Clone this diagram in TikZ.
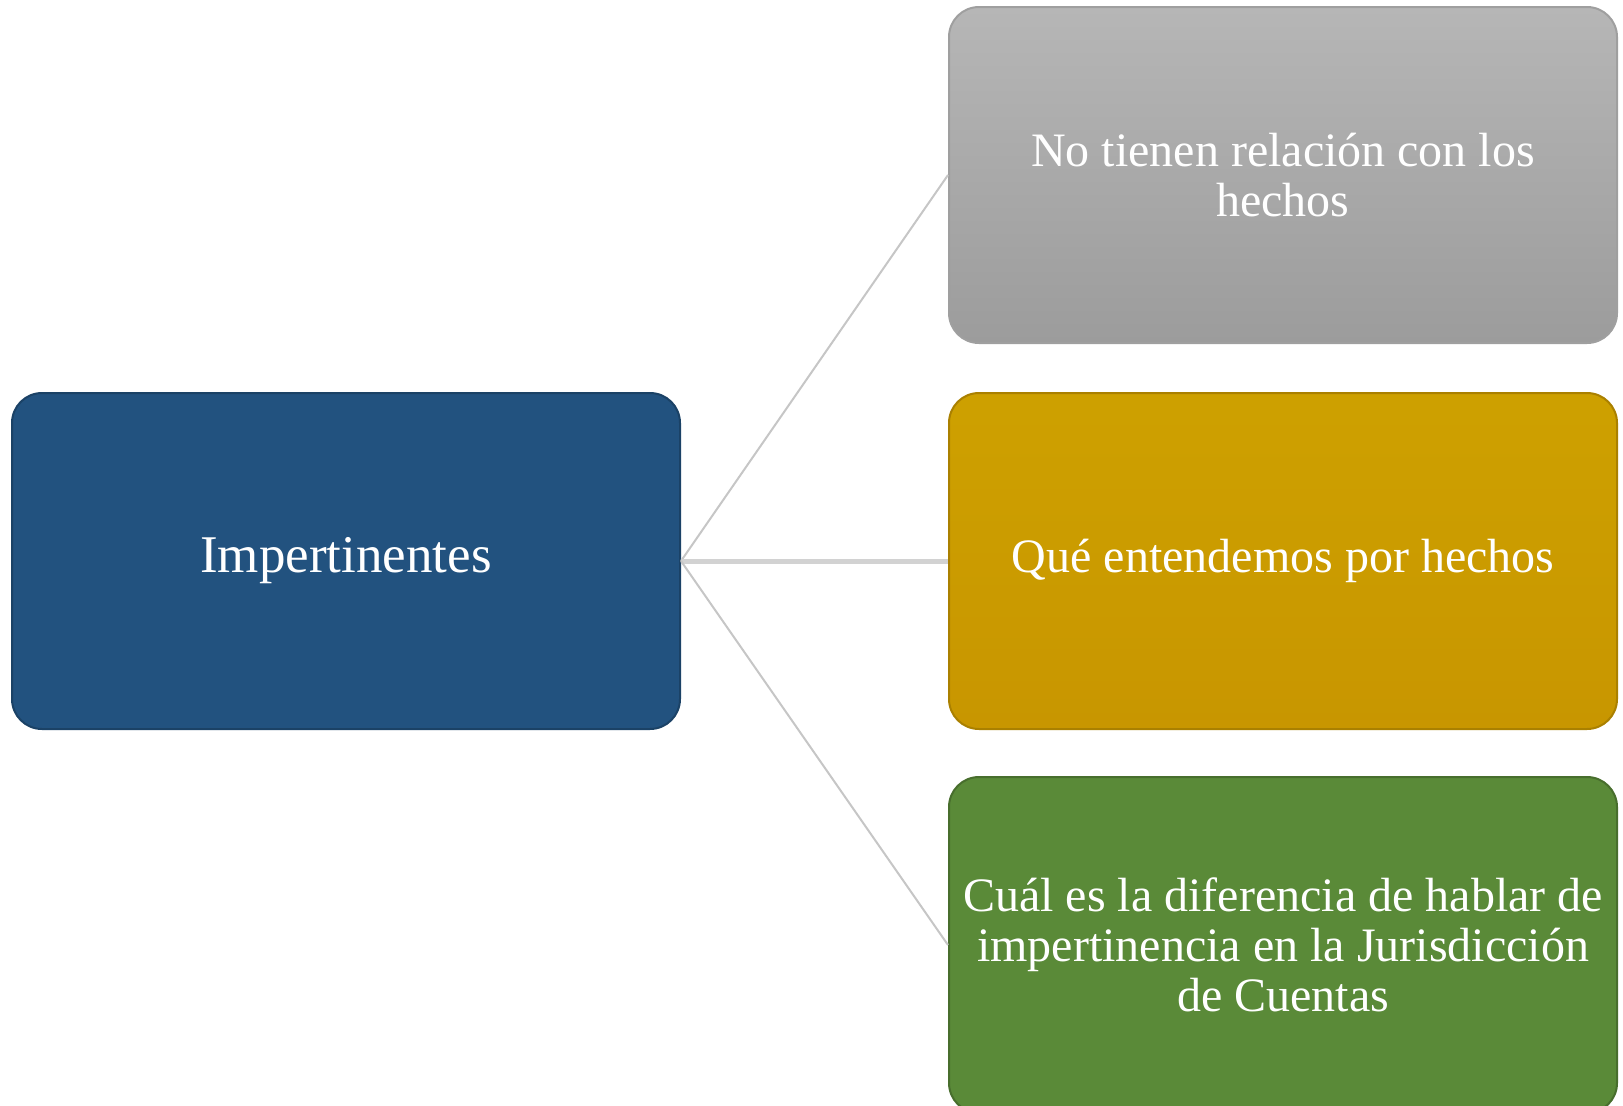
\documentclass[tikz,border=0pt]{standalone}
\usepackage{fontspec}
\setmainfont{Liberation Serif}
\usetikzlibrary{positioning}

\definecolor{impblue}{HTML}{22527F}
\definecolor{grytop}{HTML}{B6B6B6}
\definecolor{grybot}{HTML}{9C9C9C}
\definecolor{goldfill}{HTML}{C89600}
\definecolor{greenfill}{HTML}{5A8A38}

\begin{document}
\begin{tikzpicture}[
		node distance=384pt,on grid,
		block/.style={rectangle,rounded corners=30pt,minimum width=668pt,
			minimum height=336pt,inner sep=0pt,align=center,text=white,
			line width=2pt,font=\fontsize{48}{50}\selectfont},
		link/.style={draw=gray!45,line width=2pt}]
   \useasboundingbox (0pt,0pt) rectangle (1623pt,-1106pt);
   \begin{scope}
   \clip (0pt,0pt) rectangle (1623pt,-1106pt);
   %% boxes
   \node [block,fill=impblue,draw=impblue!80!black,font=\fontsize{53}{56}\selectfont] (imp) at (346pt,-561pt) {Impertinentes};
   \node [block,top color=goldfill!90!yellow,bottom color=goldfill,draw=goldfill!85!black] (hechos) [right=937pt of imp] {Qué entendemos por hechos};
   \node [block,top color=grytop,bottom color=grybot,draw=gray!75] (norel) [above=386pt of hechos] {No tienen relación con los\\hechos};
   \node [block,fill=greenfill,draw=greenfill!80!black] (cuenta) [below=384pt of hechos] {Cuál es la diferencia de hablar de\\impertinencia en la Jurisdicción\\de Cuentas};
   %% connectors
   \draw [link] (imp.east) -- (norel.west);
   \draw [link,draw=gray!35,line width=5pt] (imp.east) -- (hechos.west);
   \draw [link] (imp.east) -- (cuenta.west);
   \end{scope}
\end{tikzpicture}
\end{document}
